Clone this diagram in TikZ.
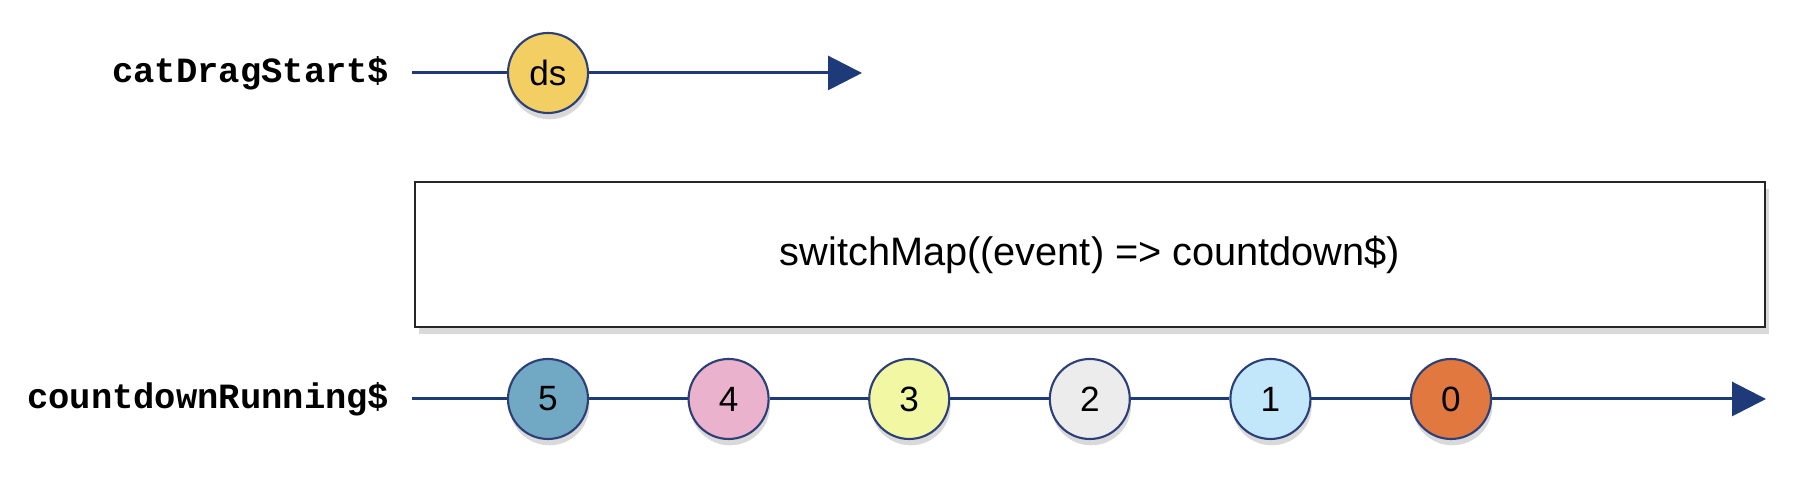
\documentclass[tikz,border=0pt]{standalone}
\usepackage{fontspec}
\setmainfont{Liberation Sans}
\newfontfamily\streamfont{Liberation Mono}
\usepackage{tikz}
\usetikzlibrary{arrows.meta,shadows}
\usetikzlibrary{positioning}

\definecolor{streamblue}{HTML}{1F3A78}
\definecolor{rimblue}{HTML}{2B3F78}
\definecolor{dsyellow}{HTML}{F3CE63}
\definecolor{mblue}{HTML}{71A9C4}
\definecolor{mpink}{HTML}{EAB2CC}
\definecolor{mlime}{HTML}{F2F7A3}
\definecolor{mgrey}{HTML}{ECECEC}
\definecolor{mcyan}{HTML}{C3E7FA}
\definecolor{morange}{HTML}{E0783F}

\begin{document}
\begin{tikzpicture}[>={Triangle[length=0.34cm,width=0.34cm]},
  stream/.style={draw=streamblue,line width=0.85pt},
  marble/.style={circle,draw=rimblue,line width=0.6pt,minimum size=0.8cm,inner sep=0pt,font=\fontsize{10}{12}\selectfont,drop shadow={shadow xshift=0.4pt,shadow yshift=-1.8pt,opacity=0.3}},
  streamlabel/.style={anchor=east,inner sep=0pt,font=\streamfont\bfseries\fontsize{10.1}{12}\selectfont},
  operator/.style={draw=black!85,line width=0.6pt,fill=white,minimum width=13.5cm,minimum height=1.45cm,font=\fontsize{11.3}{13}\selectfont,drop shadow={shadow xshift=1.2pt,shadow yshift=-2pt,opacity=0.3}}]
\useasboundingbox (0,0) rectangle (18.12,4.8);
% input stream
\node[streamlabel] (lblA) at (3.90,4.07) {catDragStart\$};
\coordinate (sA) at (4.12,4.07);
\coordinate (eA) at (8.62,4.07);
\node[marble,fill=dsyellow] (ds) at (5.48,4.07) {ds};
\draw[stream,->] (sA) -- (ds) -- (eA);
% operator box
\node[operator] (op) at (10.90,2.255) {switchMap((event) => countdown\$)};
% output stream
\node[streamlabel] (lblB) at (3.90,0.81) {countdownRunning\$};
\coordinate (sB) at (4.12,0.81);
\coordinate (eB) at (17.66,0.81);
\foreach \i/\v/\c in {0/5/mblue,1/4/mpink,2/3/mlime,3/2/mgrey,4/1/mcyan,5/0/morange}
  \node[marble,fill=\c] (v\v) at (5.48+\i*1.806,0.81) {\v};
\draw[stream,->] (sB) -- (v5) -- (v4) -- (v3) -- (v2) -- (v1) -- (v0) -- (eB);
\end{tikzpicture}
\end{document}
